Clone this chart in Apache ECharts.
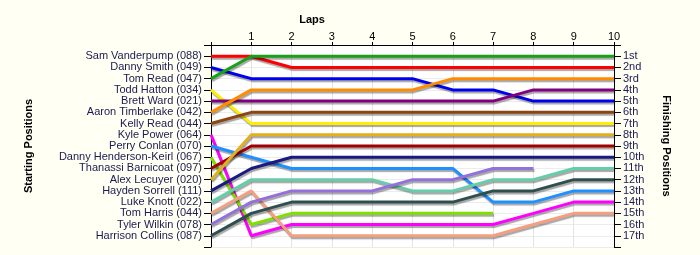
<!DOCTYPE html>
<html>
<head>
<meta charset="utf-8">
<script src="https://cdn.jsdelivr.net/npm/echarts@6/dist/echarts.min.js"></script>
<style>
html,body{margin:0;padding:0;background:#fffff4;}
#c{width:700px;height:255px;}
</style>
</head>
<body>
<div id="c"></div>
<script>
// ---- data ----
const laps = [0,1,2,3,4,5,6,7,8,9,10];
const startNames = [
  "Sam Vanderpump (088)","Danny Smith (049)","Tom Read (047)","Todd Hatton (034)",
  "Brett Ward (021)","Aaron Timberlake (042)","Kelly Read (044)","Kyle Power (064)",
  "Perry Conlan (070)","Danny Henderson-Keirl (067)","Thanassi Barnicoat (097)",
  "Alex Lecuyer (020)","Hayden Sorrell (111)","Luke Knott (022)","Tom Harris (044)",
  "Tyler Wilkin (078)","Harrison Collins (087)"
];
const finishLabels = ["1st","2nd","3rd","4th","5th","6th","7th","8th","9th","10th",
  "11th","12th","13th","14th","15th","16th","17th"];
const lapTicks = ["","1","2","3","4","5","6","7","8","9","10"];

// positions per lap (lap 0 = start)
const posSamVanderpump   = [1,1,2,2,2,2,2,2,2,2,2];
const posDannySmith      = [2,3,3,3,3,3,4,4,5,5,5];
const posTomRead         = [3,1,1,1,1,1,1,1,1,1,1];
const posToddHatton      = [4,7,7,7,7,7,7,7,7,7,7];
const posBrettWard       = [5,5,5,5,5,5,5,5,4,4,4];
const posAaronTimberlake = [6,4,4,4,4,4,3,3,3,3,3];
const posKellyRead       = [7,6,6,6,6,6,6,6,6,6,6];
const posKylePower       = [8,17,16,16,16,16,16,16,15,14,14];
const posPerryConlan     = [9,10,11,11,11,11,11,14,14,13,13];
const posDannyHK         = [10,16,15,15,15,15,15,15];
const posThanassi        = [11,9,9,9,9,9,9,9,9,9,9];
const posAlexLecuyer     = [12,8,8,8,8,8,8,8,8,8,8];
const posHaydenSorrell   = [13,11,10,10,10,10,10,10,10,10,10];
const posLukeKnott       = [14,12,12,12,12,13,13,12,12,11,11];
const posTomHarris       = [15,13,17,17,17,17,17,17,16,15,15];
const posTylerWilkin     = [16,14,13,13,13,12,12,11,11];
const posHarrisonCollins = [17,15,14,14,14,14,14,13,13,12,12];

const allPositions = [posSamVanderpump,posDannySmith,posTomRead,posToddHatton,posBrettWard,
  posAaronTimberlake,posKellyRead,posKylePower,posPerryConlan,posDannyHK,posThanassi,
  posAlexLecuyer,posHaydenSorrell,posLukeKnott,posTomHarris,posTylerWilkin,posHarrisonCollins];

// ---- style ----
const colors = ["#ff0000","#0000f0","#18a018","#ffee00","#800080","#ff8c00","#8b4513",
  "#ff00ff","#1e90ff","#7fe000","#a00000","#e0b020","#1a1a80","#66cdaa","#f4a080",
  "#9370db","#2f4f4f"];
const FONT = "Liberation Sans";
const labelColor = "#1a1a50";

const series = allPositions.map((p, i) => ({
  name: startNames[i],
  type: 'line',
  data: p.map((v, k) => [laps[k], v]),
  symbol: 'none',
  animation: false,
  lineStyle: {
    color: colors[i], width: 3,
    shadowColor: 'rgba(0,0,0,0.35)', shadowOffsetX: 1, shadowOffsetY: 2, shadowBlur: 1
  },
  itemStyle: {color: colors[i]}
}));

const chart = echarts.init(document.getElementById('c'));
chart.setOption({
  backgroundColor: '#fffff4',
  animation: false,
  title: {
    text: 'Laps', left: 307, top: 9, textAlign: 'center',
    textStyle: {fontFamily: FONT, fontSize: 11, fontWeight: 'bold', color: '#000'}
  },
  grid: {left: 211, right: 86, top: 45, bottom: 8, show: true,
    backgroundColor: '#ffffff', borderWidth: 0},
  xAxis: {
    type: 'value', position: 'top', min: 0, max: 10, interval: 1,
    axisLine: {show: true, lineStyle: {color: '#000', width: 1}},
    axisTick: {show: true, length: 3, lineStyle: {color: '#000'}},
    axisLabel: {fontFamily: FONT, fontSize: 11, color: '#000', margin: 3,
      formatter: v => lapTicks[v] || ''},
    splitLine: {show: true, lineStyle: {color: '#e4e4e4', width: 1}}
  },
  yAxis: [{
    type: 'value', position: 'left', min: 0, max: 18, interval: 1, inverse: true,
    name: 'Starting Positions', nameLocation: 'middle', nameGap: 177,
    nameTextStyle: {fontFamily: FONT, fontSize: 11, fontWeight: 'bold', color: '#000'},
    axisLine: {show: true, lineStyle: {color: '#000', width: 1}},
    axisTick: {show: true, length: 7, lineStyle: {color: '#000'}},
    axisLabel: {fontFamily: FONT, fontSize: 11, color: labelColor, margin: 9,
      formatter: v => (v >= 1 && v <= 17) ? startNames[v - 1] : ''},
    splitLine: {show: true, lineStyle: {color: '#ececec', width: 1}}
  }, {
    type: 'value', position: 'right', min: 0, max: 18, interval: 1, inverse: true,
    name: 'Finishing Positions', nameLocation: 'middle', nameGap: 47, nameRotate: -90,
    nameTextStyle: {fontFamily: FONT, fontSize: 11, fontWeight: 'bold', color: '#000'},
    axisLine: {show: true, lineStyle: {color: '#000', width: 1}},
    axisTick: {show: true, length: 7, lineStyle: {color: '#000'}},
    axisLabel: {fontFamily: FONT, fontSize: 11, color: labelColor, margin: 9,
      formatter: v => (v >= 1 && v <= 17) ? finishLabels[v - 1] : ''},
    splitLine: {show: false}
  }],
  series: series
});
</script>
</body>
</html>
